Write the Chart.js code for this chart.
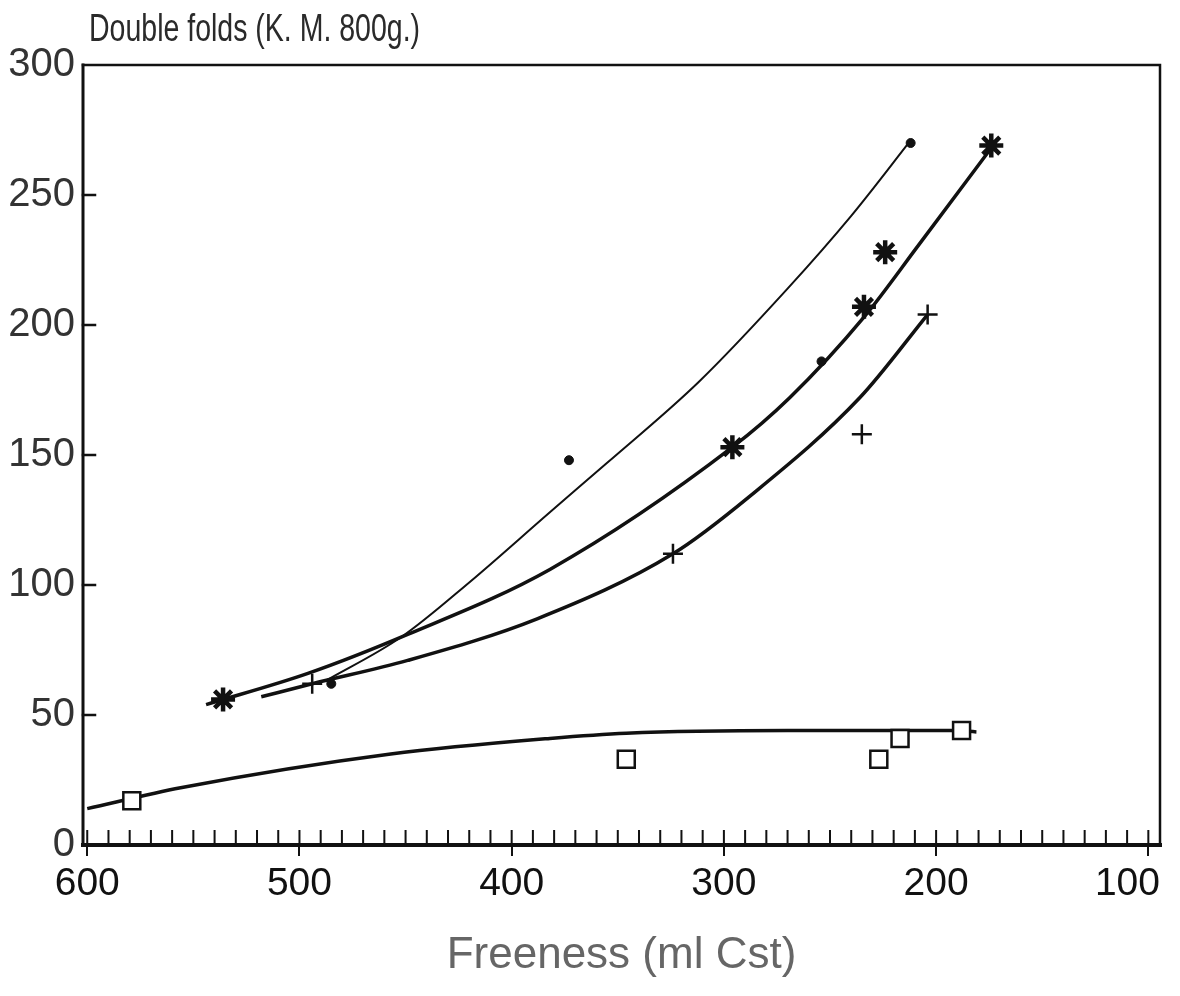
<!DOCTYPE html>
<html>
<head>
<meta charset="utf-8">
<title>Double folds vs freeness</title>
<script src="https://cdn.jsdelivr.net/npm/chart.js@4.4.1/dist/chart.umd.min.js"></script>
<style>
  html, body { margin: 0; padding: 0; background: #fff; }
  #wrap { position: relative; width: 1180px; height: 996px; }
</style>
</head>
<body>
<div id="wrap"><canvas id="folds"></canvas></div>
<script>
const xTicks = [600, 500, 400, 300, 200, 100];
const yTicks = [0, 50, 100, 150, 200, 250, 300];
const yTitle = 'Double folds (K. M. 800g.)';
const xTitle = 'Freeness (ml Cst)';

// measured points, one pair of arrays per series
const dotFreeness = [485, 373, 254, 212];
const dotFolds = [62, 148, 186, 270];
const starFreeness = [536, 296, 234, 224, 174];
const starFolds = [56, 153, 207, 228, 269];
const plusFreeness = [494, 324, 235, 204];
const plusFolds = [62, 112, 158, 204];
const squareFreeness = [579, 346, 227, 217, 188];
const squareFolds = [17, 33, 33, 41, 44];

// hand-drawn fit curves
const dotFitFreeness = [488, 452, 420, 382, 355, 312, 270, 240, 212];
const dotFitFolds = [63, 80, 101, 128, 147, 178, 214, 242, 271];
const starFitFreeness = [544, 496, 449, 382, 296, 269, 234, 208, 175];
const starFitFolds = [54, 66, 81, 106, 153, 172, 203, 231, 267];
const plusFitFreeness = [518, 494, 449, 388, 324, 288, 236, 204];
const plusFitFolds = [57, 62, 71, 87, 112, 134, 172, 204];
const squareFitFreeness = [600, 556, 457, 382, 346, 270, 193, 181];
const squareFitFolds = [14, 22, 35, 41, 43, 44, 44, 43.5];

const ink = '#111';
const sans = '"Liberation Sans", Arial, sans-serif';
const pts = (xs, ys) => xs.map((x, i) => ({ x: x, y: ys[i] }));

function markers(xs, ys, style) {
  return Object.assign({
    data: pts(xs, ys),
    showLine: false,
    borderColor: ink,
    backgroundColor: ink
  }, style);
}

function curve(xs, ys, width) {
  return {
    data: pts(xs, ys),
    showLine: true,
    pointRadius: 0,
    borderColor: ink,
    borderWidth: width,
    cubicInterpolationMode: 'monotone',
    fill: false
  };
}

// axis frame, minor ticks, x labels and y title
const framePlugin = {
  id: 'frame',
  beforeDatasetsDraw(chart) {
    const { ctx, chartArea: a, scales } = chart;
    ctx.save();
    ctx.strokeStyle = ink;
    ctx.lineCap = 'square';
    ctx.lineWidth = 2.5;
    ctx.beginPath();
    ctx.moveTo(a.left, a.top); ctx.lineTo(a.right, a.top); ctx.lineTo(a.right, a.bottom);
    ctx.stroke();
    ctx.lineWidth = 3;
    ctx.beginPath();
    ctx.moveTo(a.left, a.top); ctx.lineTo(a.left, a.bottom);
    ctx.stroke();
    ctx.lineWidth = 4;
    ctx.beginPath();
    ctx.moveTo(a.left, a.bottom); ctx.lineTo(a.right, a.bottom);
    ctx.stroke();

    // minor ticks every 10 ml, pointing into the plot
    ctx.lineWidth = 2;
    ctx.beginPath();
    for (let v = 600; v >= 100; v -= 10) {
      const x = scales.x.getPixelForValue(v);
      ctx.moveTo(x, a.bottom);
      ctx.lineTo(x, a.bottom - 14);
    }
    ctx.stroke();

    // short ticks on the y axis
    ctx.lineWidth = 2.5;
    ctx.beginPath();
    yTicks.slice(1, -1).forEach(v => {
      const y = scales.y.getPixelForValue(v);
      ctx.moveTo(a.left, y);
      ctx.lineTo(a.left + 12, y);
    });
    ctx.stroke();
    ctx.restore();
  },
  afterDraw(chart) {
    const { ctx, chartArea: a, scales } = chart;
    ctx.save();
    ctx.fillStyle = ink;

    // x tick labels, kept inside the frame
    ctx.font = '39px ' + sans;
    ctx.textAlign = 'center';
    ctx.textBaseline = 'alphabetic';
    xTicks.forEach(v => {
      const w = ctx.measureText(String(v)).width;
      const x = Math.min(scales.x.getPixelForValue(v), a.right - w / 2);
      ctx.fillText(String(v), x, a.bottom + 50);
    });

    // y title, condensed
    ctx.fillStyle = '#2a2a2a';
    ctx.font = '38px ' + sans;
    ctx.textAlign = 'left';
    ctx.translate(a.left + 6, 41);
    ctx.scale(0.75, 1);
    ctx.fillText(yTitle, 0, 0);
    ctx.restore();
  }
};

new Chart(document.getElementById('folds'), {
  type: 'scatter',
  data: {
    datasets: [
      markers(dotFreeness, dotFolds, { pointStyle: 'circle', pointRadius: 4.5 }),
      markers(starFreeness, starFolds, { pointStyle: 'star', pointRadius: 12, borderWidth: 4.5 }),
      markers(plusFreeness, plusFolds, { pointStyle: 'cross', pointRadius: 10, borderWidth: 2.5 }),
      markers(squareFreeness, squareFolds, { pointStyle: 'rect', pointRadius: 12, borderWidth: 2.5, backgroundColor: '#fff' }),
      curve(dotFitFreeness, dotFitFolds, 2),
      curve(starFitFreeness, starFitFolds, 3.5),
      curve(plusFitFreeness, plusFitFolds, 3.5),
      curve(squareFitFreeness, squareFitFolds, 3.5)
    ]
  },
  options: {
    responsive: true,
    maintainAspectRatio: false,
    animation: false,
    layout: { padding: { top: 65, right: 20, bottom: 0, left: 0 } },
    plugins: {
      legend: { display: false },
      tooltip: { enabled: false }
    },
    scales: {
      x: {
        type: 'linear',
        reverse: true,
        min: 94.5,
        max: 602,
        afterBuildTicks: s => { s.ticks = xTicks.map(v => ({ value: v })); },
        afterFit: s => { s.height = 151; s.paddingLeft = 0; s.paddingRight = 0; },
        border: { display: false },
        grid: { drawOnChartArea: false, drawTicks: true, tickLength: 11, color: ink, lineWidth: 2 },
        ticks: { display: false },
        title: {
          display: true,
          text: xTitle,
          color: '#666',
          padding: { top: 0, bottom: 14 },
          font: { family: sans, size: 44 }
        }
      },
      y: {
        min: 0,
        max: 300,
        afterBuildTicks: s => { s.ticks = yTicks.map(v => ({ value: v })); },
        afterFit: s => { s.width = 83; },
        border: { display: false },
        grid: { display: false, drawTicks: false },
        ticks: {
          color: '#333',
          padding: 8,
          font: { family: sans, size: 40 }
        }
      }
    }
  },
  plugins: [framePlugin]
});
</script>
</body>
</html>
